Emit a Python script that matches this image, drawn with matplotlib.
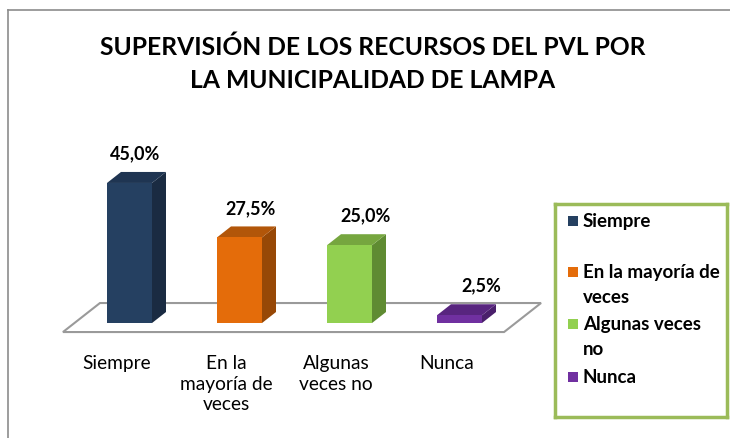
import matplotlib.pyplot as plt
from matplotlib.patches import Polygon

plt.rcParams['font.family'] = ['Lato', 'DejaVu Sans']

# datos
categorias = ['Siempre', 'En la\nmayoría de\nveces', 'Algunas\nveces no', 'Nunca']
leyenda = ['Siempre', 'En la mayoría de\nveces', 'Algunas veces\nno', 'Nunca']
valores = [45.0, 27.5, 25.0, 2.5]
etiquetas = ['45,0%', '27,5%', '25,0%', '2,5%']

# colores (frente, lado, tapa)
frente = ['#254061', '#E46C0A', '#92D050', '#7030A0']
lado = ['#1A2B42', '#974806', '#5F8B32', '#4A1F6B']
tapa = ['#1F3552', '#B25609', '#76A63F', '#58257F']

W, H = 730, 439
fig = plt.figure(figsize=(W / 100, H / 100), dpi=100)

# marco exterior
fig.add_artist(plt.Line2D([8 / W, 8 / W], [0, 1 - 11 / H], color='#8C8C8C', lw=1.2))
fig.add_artist(plt.Line2D([8 / W, 1], [1 - 11 / H, 1 - 11 / H], color='#8C8C8C', lw=1.2))

fig.text(0.511, 1 - 47 / H, 'SUPERVISIÓN DE LOS RECURSOS DEL PVL POR',
         ha='center', va='center', fontsize=17.7, fontweight='bold')
fig.text(0.511, 1 - 80 / H, 'LA MUNICIPALIDAD DE LAMPA',
         ha='center', va='center', fontsize=17.7, fontweight='bold')

# ejes: x en categorias, y en porcentaje
px_cat = 110.0
px_pct = 140 / 45.0
ax = fig.add_axes([74.5 / W, (H - 339.6) / H, 440 / W, 171.2 / H])
ax.set_xlim(-0.5, 3.5)
ax.set_ylim(-5, 50)
ax.axis('off')

# suelo en perspectiva
fdx, fdy = 37 / px_cat, 29 / px_pct
f0 = -9 / px_pct
xa, xb = -0.605, 3.405
suelo = Polygon([(xa, f0), (xb, f0), (xb + fdx, f0 + fdy), (xa + fdx, f0 + fdy)],
                closed=True, facecolor='white', edgecolor='#9A9A9A', lw=1.5,
                clip_on=False, zorder=1)
ax.add_patch(suelo)

bw = 45 / px_cat
dx, dy = 14 / px_cat, 11 / px_pct
for i, v in enumerate(valores):
    x0 = i - bw / 2
    x1 = i + bw / 2
    ax.add_patch(Polygon([(x1, 0), (x1 + dx, dy), (x1 + dx, v + dy), (x1, v)],
                         facecolor=lado[i], edgecolor='none', clip_on=False, zorder=3))
    ax.add_patch(Polygon([(x0, v), (x1, v), (x1 + dx, v + dy), (x0 + dx, v + dy)],
                         facecolor=tapa[i], edgecolor='none', clip_on=False, zorder=3))
    ax.bar(i, v, width=bw, color=frente[i], zorder=4, clip_on=False)
    ax.text(i + 0.05 + 0.05 * i, v + 30 / px_pct, etiquetas[i], ha='center', va='center',
            fontsize=13, fontweight='bold', clip_on=False)
    ax.text(i - 0.12, -31 / px_pct, categorias[i], ha='center', va='top',
            fontsize=13.8, linespacing=1.25, clip_on=False)

# leyenda
lax = fig.add_axes([555 / W, (H - 418) / H, 172 / W, 213 / H])
lax.set_xlim(0, 172)
lax.set_ylim(213, 0)
lax.set_xticks([])
lax.set_yticks([])
for s in lax.spines.values():
    s.set_color('#9BBB59')
    s.set_linewidth(2.5)
ly = [17, 68, 120, 173]
for i, t in enumerate(leyenda):
    lax.add_patch(Polygon([(13, ly[i] - 5), (23, ly[i] - 5), (23, ly[i] + 5), (13, ly[i] + 5)],
                          facecolor=frente[i], edgecolor='none'))
    lax.text(28, ly[i] - 9, t, ha='left', va='top', fontsize=13.5,
             fontweight='bold', linespacing=1.55)

fig.savefig('out.png', dpi=100)
